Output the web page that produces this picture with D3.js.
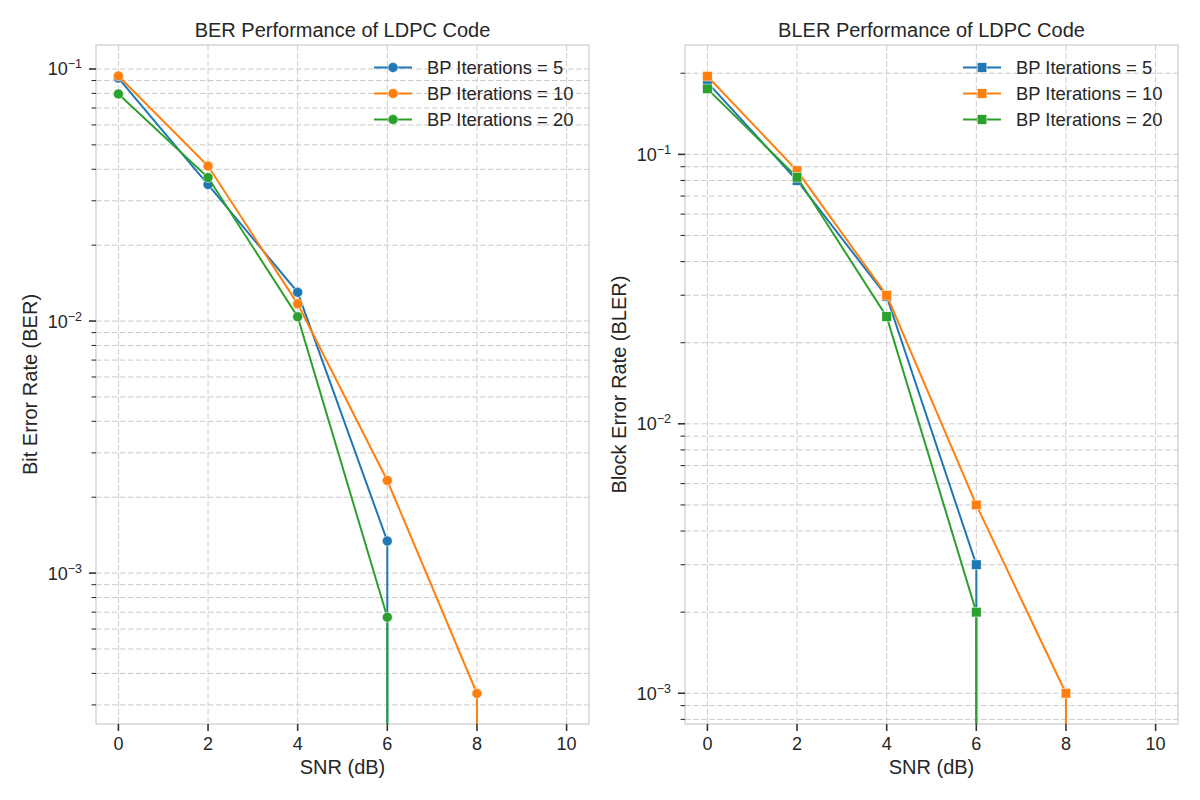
<!DOCTYPE html>
<html>
<head>
<meta charset="utf-8">
<script src="https://cdn.jsdelivr.net/npm/d3@7"></script>
<style>
  body { margin: 0; background: #fff; }
  text { font-family: "Liberation Sans", Arial, sans-serif; fill: #262626; }
</style>
</head>
<body>
<svg id="chart" width="1200" height="800"></svg>
<script>
// SNR points (dB) and series labels
var snrDb = [0, 2, 4, 6, 8, 10];
var iterLabels = ["BP Iterations = 5", "BP Iterations = 10", "BP Iterations = 20"];

// bit error rate, 0 = no errors (drawn clipped to the bottom like matplotlib)
var ber5  = [0.0920, 0.0348, 0.0130, 0.00134, 0, 0];
var ber10 = [0.0938, 0.0412, 0.0117, 0.00233, 0.000333, 0];
var ber20 = [0.0796, 0.0371, 0.0104, 0.000668, 0, 0];

// block error rate
var bler5  = [0.185, 0.0800, 0.0297, 0.003, 0, 0];
var bler10 = [0.195, 0.0870, 0.0300, 0.005, 0.001, 0];
var bler20 = [0.175, 0.0822, 0.0250, 0.002, 0, 0];

var colors = ["#1f77b4", "#ff7f0e", "#2ca02c"];

var svg = d3.select("#chart");

var supMinus = function(n){
  return "\u2212" + Math.abs(n);
}

var drawPanel = function(cfg){
  var left = cfg.left, top = 45, w = 493, h = 679;

  var x = d3.scaleLinear().domain([-0.5, 10.5]).range([0, w]);
  var y = d3.scaleLog().domain(cfg.yDomain).range([h, 0]);

  var g = svg.append("g").attr("transform", "translate(" + left + "," + top + ")");

  g.append("clipPath").attr("id", cfg.id + "clip")
    .append("rect").attr("width", w).attr("height", h);

  // grid
  var yTicks = y.ticks();
  var isMajor = function(t){ return Math.abs(Math.log10(t) - Math.round(Math.log10(t))) < 1e-9 };

  g.selectAll(".hgrid").data(yTicks).enter().append("line")
    .attr("x1", 0).attr("x2", w)
    .attr("y1", function(d){ return y(d) }).attr("y2", function(d){ return y(d) })
    .attr("stroke", "#cbcbcb").attr("stroke-width", 1)
    .attr("stroke-dasharray", "5.5,2.5");

  var xTicks = [0, 2, 4, 6, 8, 10];
  g.selectAll(".vgrid").data(xTicks).enter().append("line")
    .attr("y1", 0).attr("y2", h)
    .attr("x1", function(d){ return x(d) }).attr("x2", function(d){ return x(d) })
    .attr("stroke", "#cbcbcb").attr("stroke-width", 1)
    .attr("stroke-dasharray", "5.5,2.5");

  // spines
  g.append("rect").attr("width", w).attr("height", h)
    .attr("fill", "none").attr("stroke", "#cccccc").attr("stroke-width", 1.25);

  // y ticks
  g.selectAll(".ytick").data(yTicks).enter().append("line")
    .attr("x1", function(d){ return isMajor(d) ? -7 : -4.5 }).attr("x2", 0)
    .attr("y1", function(d){ return y(d) }).attr("y2", function(d){ return y(d) })
    .attr("stroke", "#333").attr("stroke-width", function(d){ return isMajor(d) ? 1.6 : 1.1 });

  var yLab = g.selectAll(".ylab").data(yTicks.filter(isMajor)).enter().append("text")
    .attr("x", -14).attr("y", function(d){ return y(d) + 6.5 })
    .attr("text-anchor", "end").style("font-size", "18px");
  yLab.append("tspan").text("10");
  yLab.append("tspan").attr("dy", -7).style("font-size", "12.5px")
    .text(function(d){ return supMinus(Math.round(Math.log10(d))) });

  // x ticks
  g.selectAll(".xtick").data(xTicks).enter().append("line")
    .attr("x1", function(d){ return x(d) }).attr("x2", function(d){ return x(d) })
    .attr("y1", h).attr("y2", h + 7)
    .attr("stroke", "#333").attr("stroke-width", 1.6);

  g.selectAll(".xlab").data(xTicks).enter().append("text")
    .attr("x", function(d){ return x(d) }).attr("y", h + 26)
    .attr("text-anchor", "middle").style("font-size", "18px")
    .text(function(d){ return d });

  // labels
  g.append("text").attr("x", w / 2).attr("y", h + 50)
    .attr("text-anchor", "middle").style("font-size", "20px").text("SNR (dB)");

  g.append("text").attr("transform", "translate(" + cfg.yLabelX + "," + (h / 2) + ") rotate(-90)")
    .attr("dy", "0.35em").attr("text-anchor", "middle").style("font-size", "20px")
    .text(cfg.yLabel);

  g.append("text").attr("x", w / 2).attr("y", -8)
    .attr("text-anchor", "middle").style("font-size", "20px").text(cfg.title);

  // series
  var plot = g.append("g").attr("clip-path", "url(#" + cfg.id + "clip)");
  var yPos = function(v){ return v > 0 ? y(v) : h + 1e6 };
  var line = d3.line()
    .x(function(d){ return x(d.snr) })
    .y(function(d){ return yPos(d.v) });

  var drawMarker = function(sel, color){
    if (cfg.square) {
      sel.append("rect").attr("x", -4.8).attr("y", -4.8).attr("width", 9.6).attr("height", 9.6)
        .attr("fill", color).attr("stroke", "#fff").attr("stroke-width", 0.5);
    } else {
      sel.append("circle").attr("r", 5)
        .attr("fill", color).attr("stroke", "#fff").attr("stroke-width", 0.5);
    }
  }

  cfg.series.forEach(function(vals, i){
    var pts = snrDb.map(function(s, j){ return {snr: s, v: vals[j]} });
    plot.append("path").datum(pts)
      .attr("d", line).attr("fill", "none")
      .attr("stroke", colors[i]).attr("stroke-width", 2);
    plot.selectAll(".m" + i).data(pts.filter(function(p){ return p.v > 0 })).enter()
      .append("g").attr("class", "m" + i)
      .attr("transform", function(p){ return "translate(" + x(p.snr) + "," + y(p.v) + ")" })
      .each(function(){ drawMarker(d3.select(this), colors[i]) });
  });

  // legend (no frame)
  var lg = g.append("g").attr("transform", "translate(" + (w - 215) + ",22.5)");
  iterLabels.forEach(function(lab, i){
    var row = lg.append("g").attr("transform", "translate(0," + (i * 26) + ")");
    row.append("line").attr("x1", 0).attr("x2", 38)
      .attr("stroke", colors[i]).attr("stroke-width", 2);
    var mk = row.append("g").attr("transform", "translate(19,0)");
    drawMarker(mk, colors[i]);
    row.append("text").attr("x", 53).attr("y", 6.5)
      .style("font-size", "18.4px").text(lab);
  });
}

drawPanel({
  id: "ber", left: 96, yDomain: [2.52e-4, 0.1245],
  series: [ber5, ber10, ber20], square: false,
  title: "BER Performance of LDPC Code", yLabel: "Bit Error Rate (BER)", yLabelX: -66
});

drawPanel({
  id: "bler", left: 685, yDomain: [7.69e-4, 0.2546],
  series: [bler5, bler10, bler20], square: true,
  title: "BLER Performance of LDPC Code", yLabel: "Block Error Rate (BLER)", yLabelX: -66
});
</script>
</body>
</html>
